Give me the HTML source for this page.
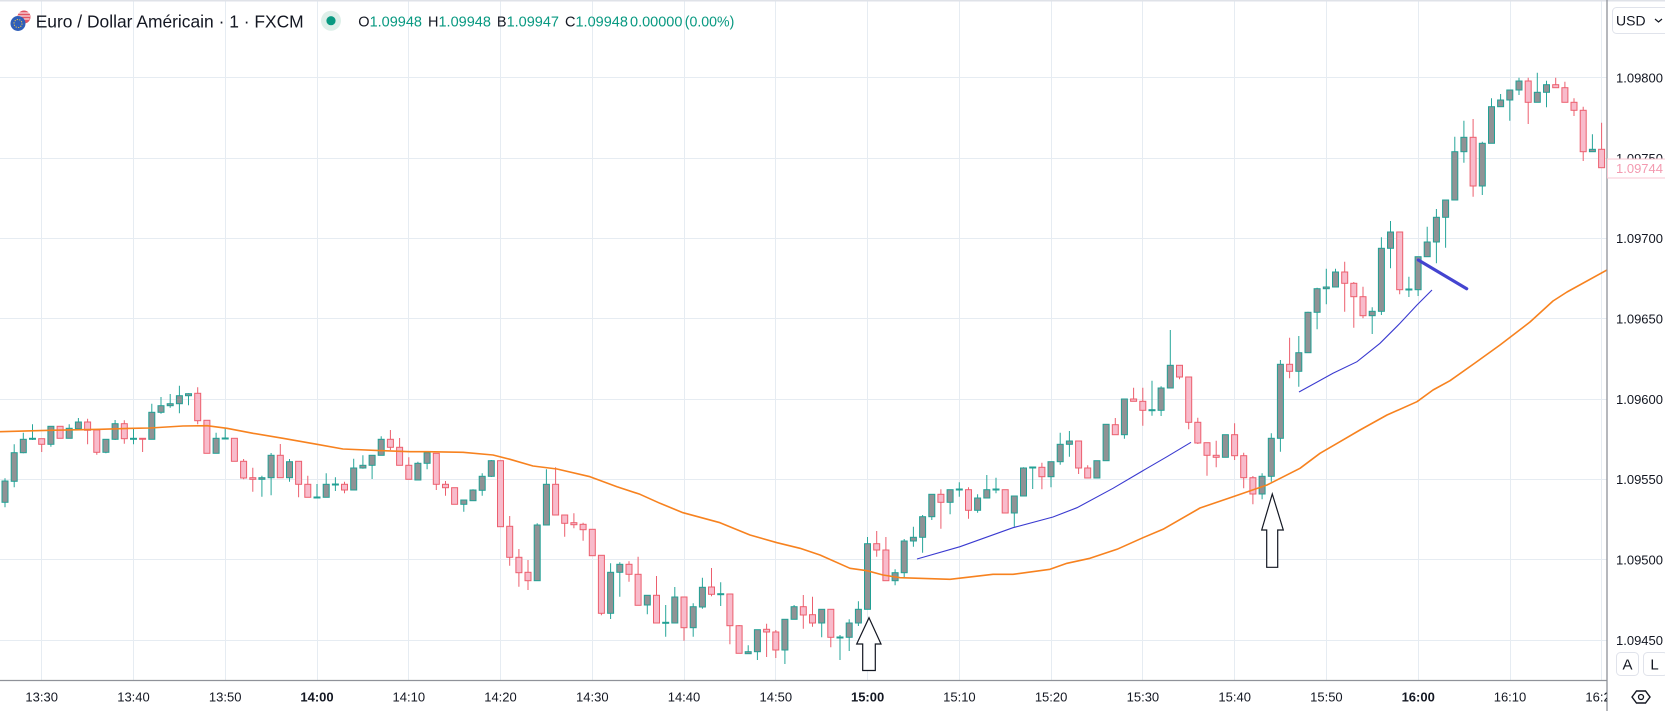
<!DOCTYPE html>
<html><head><meta charset="utf-8"><style>
html,body{margin:0;padding:0;background:#fff;}
svg{display:block;font-family:"Liberation Sans",sans-serif;}
</style></head><body>
<svg width="1665" height="711" viewBox="0 0 1665 711" xmlns="http://www.w3.org/2000/svg">
<defs><clipPath id="c"><rect x="0" y="0" width="1607" height="680"/></clipPath>
<clipPath id="ct"><rect x="0" y="680" width="1607" height="31"/></clipPath></defs>
<rect width="1665" height="711" fill="#fff"/>
<g clip-path="url(#c)">
<g stroke="#e6ecf2" stroke-width="1">
<path d="M41.5 0V680M133.5 0V680M225.5 0V680M317.5 0V680M408.5 0V680M500.5 0V680M592.5 0V680M684.5 0V680M775.5 0V680M867.5 0V680M959.5 0V680M1051.5 0V680M1142.5 0V680M1234.5 0V680M1326.5 0V680M1418.5 0V680M1510.5 0V680M1601.5 0V680"/>
<path d="M0 77.5H1607M0 158.5H1607M0 238.5H1607M0 318.5H1607M0 399.5H1607M0 479.5H1607M0 559.5H1607M0 640.5H1607"/>
</g>
<path fill="none" stroke="#26a69a" stroke-width="1" d="M5 478.3V507.3M14.2 444.3V487.3M23.3 432.7V453.3M32.5 424.3V440M50.9 426.3V446.7M69.2 424.3V438.3M78.4 418V430M105.9 439.3V453.3M115.1 420V440M133.5 428.3V444.3M151.8 403.7V439.3M161 397V413.7M170.2 394V407.7M179.4 385.7V413.3M188.5 393.3V405.3M216.1 432.7V453.3M225.2 427.7V439M261.9 475.7V496.7M271.1 453V495.3M289.5 459V481.7M317 484V498M326.2 473.3V497.3M335.4 477.3V491M353.7 458.7V490M362.9 455.3V468.7M372.1 455.3V479M381.2 436.3V455.3M417.9 461.7V480M427.1 451.7V469.3M463.8 500V511.7M473 489.3V500.7M482.2 473.3V495.7M491.3 460V477M537.2 523.3V580.7M546.4 469.3V525M610.6 563.3V619M619.8 562.3V596.7M647.3 595.3V614.3M665.7 605V636.7M674.8 587V623M693.2 603.3V636.7M702.4 577.7V608.7M720.7 582.3V606M748.2 645.3V653.7M757.4 629.7V660M784.9 619.3V664M794.1 605V619.3M821.7 609.3V637.3M840 635V660M849.2 619.3V651M858.4 601.3V626M867.5 537V609.3M895.1 569.3V585.3M904.2 539V577.3M913.4 526.7V546.7M922.6 515V552.7M931.8 494.3V520M950.1 489.7V514.3M959.3 482.3V496.7M977.6 494.3V512.7M986.8 475V498M996 477.7V493.3M1014.3 496V526.7M1023.5 467.3V496M1032.7 467V489M1051 461.7V487.3M1060.2 432.7V464.7M1069.4 431V456.7M1096.9 460.7V478M1106.1 424.3V460.7M1124.4 399V438.7M1152 380.7V415.7M1161.1 386.3V416M1170.3 330V388M1225.4 434.7V457.3M1262.1 473.3V499.3M1271.3 433.3V481.7M1280.4 360V451.7M1298.8 336V386.7M1308 311.7V352.7M1317.1 287.7V329.3M1326.3 268.7V304.3M1335.5 268.7V287M1372.2 307.3V334M1381.4 237.3V315M1390.5 221V268.3M1408.9 276.7V297M1418.1 256.7V296M1427.2 226.7V256.7M1436.4 209V263.3M1445.6 200V247.7M1454.8 136.7V200M1463.9 120.7V162.7M1482.3 141.7V195M1491.5 98.3V143.3M1500.6 94V106.7M1509.8 90V120.7M1519 77.7V95M1537.3 72.7V102.3M1546.5 80.7V107.3M1592.4 134.3V151.7"/>
<path fill="none" stroke="#ec5f6e" stroke-width="1" d="M41.7 438.7V452M60.1 426.3V438.3M87.6 418.7V444.3M96.8 429.3V454.7M124.3 420.3V443.7M142.6 438.3V452M197.7 387.3V424.3M206.9 420.3V453.3M234.4 438.3V461.3M243.6 459V479.3M252.8 467.7V491.7M280.3 444V477.7M298.6 461.3V497.3M307.8 475.7V497.3M344.5 481.7V493.3M390.4 430V450M399.6 438V465.3M408.8 457.3V479.3M436.3 453.3V490M445.5 481V495.7M454.6 487.7V504.3M500.5 460.7V526.7M509.7 516V565.7M518.9 549V586.7M528 560V590M555.6 467.3V515M564.7 515V536.7M573.9 513.3V528.3M583.1 522.7V540.7M592.3 529.3V555.7M601.4 555.3V615.3M629 561.3V581.7M638.1 556.7V605.3M656.5 576V623M684 597V640.7M711.5 568V596.3M729.9 594V644.3M739.1 625V653.3M766.6 623.7V657M775.8 630V658M803.3 595V628.7M812.5 596.7V626.7M830.8 609.3V647.3M876.7 531V556.7M885.9 537V580.7M940.9 489.3V528.7M968.5 487.3V518.7M1005.2 489.7V513M1041.9 462.7V489.3M1078.6 441V474M1087.7 465.3V478M1115.3 418V434.7M1133.6 387.7V401.3M1142.8 387.7V425.7M1179.5 365.3V379.3M1188.7 377V429.3M1197.8 417.7V444M1207 442.7V475.7M1216.2 440.7V467.3M1234.6 423.3V460M1243.7 452.7V488.3M1252.9 476V504.3M1289.6 337.7V378.3M1344.7 261.7V311.7M1353.8 282V327.7M1363 286.7V318.3M1399.7 232V294.3M1473.1 119V196.7M1528.2 77.7V124M1555.7 77.7V87.7M1564.9 81.7V102.3M1574 98.3V116M1583.2 106.7V161M1601.6 122.7V167.7"/>
<g fill="#909295" stroke="#22a094" stroke-width="1">
<rect x="2" y="481" width="6" height="21.3"/><rect x="11.2" y="452.7" width="6" height="28.6"/><rect x="20.3" y="439.3" width="6" height="13.4"/><rect x="29.5" y="438.3" width="6" height="1"/><rect x="47.9" y="426.3" width="6" height="18"/><rect x="66.2" y="428.3" width="6" height="10"/><rect x="75.4" y="422" width="6" height="6.7"/><rect x="102.9" y="439.3" width="6" height="13"/><rect x="112.1" y="423.7" width="6" height="15.6"/><rect x="130.5" y="438.3" width="6" height="1"/><rect x="148.8" y="412.3" width="6" height="27"/><rect x="158" y="405.7" width="6" height="6.6"/><rect x="167.2" y="403.7" width="6" height="2"/><rect x="176.4" y="395.7" width="6" height="8"/><rect x="185.5" y="393.7" width="6" height="2"/><rect x="213.1" y="438.3" width="6" height="15"/><rect x="222.2" y="438" width="6" height="1"/><rect x="258.9" y="477.7" width="6" height="1.6"/><rect x="268.1" y="455.3" width="6" height="22.4"/><rect x="286.5" y="461.7" width="6" height="16"/><rect x="314" y="497" width="6" height="1"/><rect x="323.2" y="484.3" width="6" height="13"/><rect x="332.4" y="484" width="6" height="1"/><rect x="350.7" y="468" width="6" height="22"/><rect x="359.9" y="465.3" width="6" height="2.7"/><rect x="369.1" y="455.3" width="6" height="10"/><rect x="378.2" y="439.3" width="6" height="16"/><rect x="414.9" y="463.3" width="6" height="16.7"/><rect x="424.1" y="452.7" width="6" height="10.6"/><rect x="460.8" y="500" width="6" height="4.3"/><rect x="470" y="490" width="6" height="10.7"/><rect x="479.2" y="476.3" width="6" height="14"/><rect x="488.3" y="460.7" width="6" height="15.6"/><rect x="534.2" y="525" width="6" height="55.7"/><rect x="543.4" y="484.3" width="6" height="40.7"/><rect x="607.6" y="572.3" width="6" height="41"/><rect x="616.8" y="564.3" width="6" height="8"/><rect x="644.3" y="595.3" width="6" height="9.7"/><rect x="662.7" y="622.3" width="6" height="1"/><rect x="671.8" y="597" width="6" height="26"/><rect x="690.2" y="606.7" width="6" height="21"/><rect x="699.4" y="587.3" width="6" height="19.7"/><rect x="717.7" y="593.7" width="6" height="1"/><rect x="745.2" y="651.7" width="6" height="2"/><rect x="754.4" y="629.7" width="6" height="22"/><rect x="781.9" y="619.3" width="6" height="30.7"/><rect x="791.1" y="606.7" width="6" height="12.6"/><rect x="818.7" y="609.3" width="6" height="13.7"/><rect x="837" y="637" width="6" height="1"/><rect x="846.2" y="623" width="6" height="14.3"/><rect x="855.4" y="609.3" width="6" height="13.7"/><rect x="864.5" y="543.7" width="6" height="65.6"/><rect x="892.1" y="572.7" width="6" height="8"/><rect x="901.2" y="541" width="6" height="31.7"/><rect x="910.4" y="537.3" width="6" height="3.7"/><rect x="919.6" y="516.7" width="6" height="20.6"/><rect x="928.8" y="494.3" width="6" height="22.4"/><rect x="947.1" y="489.7" width="6" height="12.6"/><rect x="956.3" y="489" width="6" height="1"/><rect x="974.6" y="498" width="6" height="12.3"/><rect x="983.8" y="489.7" width="6" height="8.3"/><rect x="993" y="489" width="6" height="1"/><rect x="1011.3" y="496" width="6" height="17"/><rect x="1020.5" y="468" width="6" height="28"/><rect x="1029.7" y="467" width="6" height="1"/><rect x="1048" y="461.7" width="6" height="15"/><rect x="1057.2" y="444.3" width="6" height="17.4"/><rect x="1066.4" y="441" width="6" height="3.3"/><rect x="1093.9" y="460.7" width="6" height="17.3"/><rect x="1103.1" y="424.3" width="6" height="36.4"/><rect x="1121.4" y="399" width="6" height="35.7"/><rect x="1149" y="409.7" width="6" height="1"/><rect x="1158.1" y="388" width="6" height="22.3"/><rect x="1167.3" y="365.3" width="6" height="22.7"/><rect x="1222.4" y="434.7" width="6" height="22.6"/><rect x="1259.1" y="476.3" width="6" height="17.7"/><rect x="1268.3" y="438.3" width="6" height="38"/><rect x="1277.4" y="364.3" width="6" height="74"/><rect x="1295.8" y="352.7" width="6" height="18.6"/><rect x="1305" y="312.3" width="6" height="40.4"/><rect x="1314.1" y="288.7" width="6" height="23.6"/><rect x="1323.3" y="287" width="6" height="1.7"/><rect x="1332.5" y="272" width="6" height="15"/><rect x="1369.2" y="311.3" width="6" height="4.4"/><rect x="1378.4" y="248.3" width="6" height="63"/><rect x="1387.5" y="232" width="6" height="16.3"/><rect x="1405.9" y="289" width="6" height="1"/><rect x="1415.1" y="256.7" width="6" height="33"/><rect x="1424.2" y="242" width="6" height="14.7"/><rect x="1433.4" y="217.3" width="6" height="24.7"/><rect x="1442.6" y="200" width="6" height="17.3"/><rect x="1451.8" y="151.7" width="6" height="48.3"/><rect x="1460.9" y="137.3" width="6" height="14.4"/><rect x="1479.3" y="143.3" width="6" height="42.7"/><rect x="1488.5" y="106.7" width="6" height="36.6"/><rect x="1497.6" y="100" width="6" height="6.7"/><rect x="1506.8" y="90" width="6" height="10"/><rect x="1516" y="81" width="6" height="9"/><rect x="1534.3" y="92.3" width="6" height="10"/><rect x="1543.5" y="84.7" width="6" height="7.6"/><rect x="1589.4" y="149.3" width="6" height="2.4"/>
</g>
<g fill="#f8bbcb" stroke="#ec5f6e" stroke-width="1">
<rect x="38.7" y="438.7" width="6" height="5.6"/><rect x="57.1" y="426.3" width="6" height="12"/><rect x="84.6" y="422" width="6" height="8.3"/><rect x="93.8" y="430" width="6" height="22.3"/><rect x="121.3" y="423.7" width="6" height="15"/><rect x="139.6" y="438.3" width="6" height="1"/><rect x="194.7" y="393.3" width="6" height="27.4"/><rect x="203.9" y="420.3" width="6" height="33"/><rect x="231.4" y="438.3" width="6" height="23"/><rect x="240.6" y="461.3" width="6" height="16.7"/><rect x="249.8" y="477.7" width="6" height="1.6"/><rect x="277.3" y="455.3" width="6" height="22.4"/><rect x="295.6" y="461.3" width="6" height="23"/><rect x="304.8" y="484.3" width="6" height="13"/><rect x="341.5" y="484.3" width="6" height="5.7"/><rect x="387.4" y="439.3" width="6" height="8"/><rect x="396.6" y="447.3" width="6" height="18"/><rect x="405.8" y="465.3" width="6" height="14"/><rect x="433.3" y="453.3" width="6" height="31"/><rect x="442.5" y="484.3" width="6" height="3.4"/><rect x="451.6" y="487.7" width="6" height="16.6"/><rect x="497.5" y="460.7" width="6" height="66"/><rect x="506.7" y="526.3" width="6" height="31"/><rect x="515.9" y="557.3" width="6" height="15.4"/><rect x="525" y="572.3" width="6" height="8.4"/><rect x="552.6" y="484.3" width="6" height="30.7"/><rect x="561.7" y="515" width="6" height="8.3"/><rect x="570.9" y="522.7" width="6" height="2"/><rect x="580.1" y="524.3" width="6" height="5.4"/><rect x="589.3" y="529.3" width="6" height="26.4"/><rect x="598.4" y="555.3" width="6" height="58"/><rect x="626" y="564.3" width="6" height="10"/><rect x="635.1" y="574.3" width="6" height="31"/><rect x="653.5" y="595.3" width="6" height="27.7"/><rect x="681" y="597" width="6" height="30.7"/><rect x="708.5" y="587" width="6" height="7.3"/><rect x="726.9" y="594" width="6" height="31.7"/><rect x="736.1" y="625.7" width="6" height="27.6"/><rect x="763.6" y="629.3" width="6" height="2.7"/><rect x="772.8" y="632" width="6" height="18"/><rect x="800.3" y="606.7" width="6" height="8.3"/><rect x="809.5" y="614.7" width="6" height="8.3"/><rect x="827.8" y="609.3" width="6" height="28"/><rect x="873.7" y="543.7" width="6" height="6.3"/><rect x="882.9" y="550" width="6" height="30.7"/><rect x="937.9" y="494.3" width="6" height="8"/><rect x="965.5" y="489.7" width="6" height="20.6"/><rect x="1002.2" y="489.7" width="6" height="23.3"/><rect x="1038.9" y="467.3" width="6" height="9.4"/><rect x="1075.6" y="441" width="6" height="27"/><rect x="1084.7" y="468" width="6" height="10"/><rect x="1112.3" y="424.7" width="6" height="10"/><rect x="1130.6" y="399" width="6" height="2.3"/><rect x="1139.8" y="401.3" width="6" height="9"/><rect x="1176.5" y="365.3" width="6" height="11.7"/><rect x="1185.7" y="377" width="6" height="45.3"/><rect x="1194.8" y="422.3" width="6" height="20.7"/><rect x="1204" y="442.7" width="6" height="12.6"/><rect x="1213.2" y="455.3" width="6" height="2"/><rect x="1231.6" y="434.7" width="6" height="21"/><rect x="1240.7" y="455.7" width="6" height="22"/><rect x="1249.9" y="477.7" width="6" height="16.3"/><rect x="1286.6" y="364.3" width="6" height="7"/><rect x="1341.7" y="272" width="6" height="11.3"/><rect x="1350.8" y="283.3" width="6" height="13.4"/><rect x="1360" y="296.7" width="6" height="19"/><rect x="1396.7" y="232" width="6" height="57.7"/><rect x="1470.1" y="137.3" width="6" height="48.7"/><rect x="1525.2" y="81" width="6" height="21.3"/><rect x="1552.7" y="84.7" width="6" height="3"/><rect x="1561.9" y="87.7" width="6" height="14.6"/><rect x="1571" y="102.3" width="6" height="8"/><rect x="1580.2" y="110.3" width="6" height="41.4"/><rect x="1598.6" y="149.3" width="6" height="18.4"/>
</g>
<polyline fill="none" stroke="#f7821f" stroke-width="1.6" stroke-linejoin="round" points="0,431.7 50,430.3 100,429.3 133,428.3 150,428 183,426 207,425.7 227,428.3 253,433.3 283,438.3 317,444.3 343,449 383,450.7 410,451.7 427,451.7 463,452.3 493,455 510,459.3 533,466 557,469 590,476.7 617,486.7 640,494.3 660,503.3 683,512.7 720,522.7 750,535 777,542.7 800,548.3 820,555 850,568.3 867,570.7 883,575 900,577.7 950,579.3 993,574.3 1013,574.3 1050,569.3 1067,563.3 1090,558.3 1117,549.3 1143,537.7 1163,529.3 1200,508 1233,496.7 1267,485 1300,468.3 1320,453.3 1340,441.7 1360,430 1387,415 1417,401.7 1433,390 1450,380.7 1475,363 1500,345 1530,322 1553,301 1567,292 1607,270"/>
<polyline fill="none" stroke="#3a3ad0" stroke-width="1.1" points="917,559 960,546.7 1013,527.7 1053,517 1077,507.7 1113,488.3 1147,468.3 1167,456.7 1191,442.3"/>
<polyline fill="none" stroke="#3a3ad0" stroke-width="1.1" points="1299,392 1333,373.3 1357,361.7 1380,343.3 1400,323.3 1417,305 1432,290"/>
<line x1="1418.3" y1="260" x2="1466.7" y2="288.7" stroke="#4444d0" stroke-width="3.2" stroke-linecap="round"/>
<polygon fill="#fff" stroke="#131722" stroke-width="1.2" points="869,617.7 881,644 875.3,644 875.3,670.5 862.7,670.5 862.7,644 856.7,644"/>
<polygon fill="#fff" stroke="#131722" stroke-width="1.2" points="1272.3,494 1283.3,530 1277.7,530 1277.7,567.3 1266.7,567.3 1266.7,530 1261.7,530"/>
</g>
<!-- header -->
<rect x="0" y="0" width="1665" height="1.5" fill="#dfe2e8"/>
<circle cx="24" cy="17" r="6.5" fill="#e25563"/>
<path d="M18.5 13h11M18 16h12M18.5 19h11" stroke="#fff" stroke-width="1.1"/>
<circle cx="18" cy="23.5" r="7.5" fill="#2f5fb8"/>
<circle cx="18" cy="23.5" r="4" fill="none" stroke="#f2c84b" stroke-width="1" stroke-dasharray="1.2 1.3"/>
<text x="35.7" y="27.5" font-size="17.5" fill="#131722" textLength="268" lengthAdjust="spacingAndGlyphs">Euro / Dollar Américain · 1 · FXCM</text>
<circle cx="331" cy="20.7" r="10" fill="#ddefe9"/>
<circle cx="331" cy="20.7" r="4.6" fill="#089981"/>
<g font-size="14.5" fill="#089981">
<text x="358.3" y="26.3"><tspan fill="#131722">O</tspan>1.09948</text>
<text x="428" y="26.3"><tspan fill="#131722">H</tspan>1.09948</text>
<text x="496.9" y="26.3"><tspan fill="#131722">B</tspan>1.09947</text>
<text x="565" y="26.3"><tspan fill="#131722">C</tspan>1.09948</text>
<text x="630" y="26.3">0.00000</text>
<text x="684.8" y="26.3" textLength="49.5" lengthAdjust="spacingAndGlyphs">(0.00%)</text>
</g>
<!-- axes -->
<line x1="0" y1="680.5" x2="1607" y2="680.5" stroke="#8f9299" stroke-width="1.3"/>
<line x1="1607" y1="0" x2="1607" y2="711" stroke="#8f9299" stroke-width="1.3"/>
<g font-size="13" fill="#131722">
<text x="1616" y="82.5">1.09800</text>
<text x="1616" y="163">1.09750</text>
<text x="1616" y="243">1.09700</text>
<text x="1616" y="323.5">1.09650</text>
<text x="1616" y="404">1.09600</text>
<text x="1616" y="484">1.09550</text>
<text x="1616" y="564.5">1.09500</text>
<text x="1616" y="645">1.09450</text>
</g>
<rect x="1607.5" y="159" width="60" height="19" fill="#fff" stroke="#f9c7d3" stroke-width="1"/>
<text x="1616" y="173" font-size="13" fill="#f39ab0">1.09744</text>
<rect x="1612.5" y="7.5" width="60" height="26" rx="4" fill="#fff" stroke="#e0e3eb"/>
<text x="1616" y="25.5" font-size="14" fill="#131722">USD</text>
<polyline points="1655,19 1658.5,22 1662,19" fill="none" stroke="#131722" stroke-width="1.2"/>
<rect x="1616.5" y="652.5" width="22" height="23" rx="4" fill="#fff" stroke="#e0e3eb"/>
<rect x="1643.5" y="652.5" width="24" height="23" rx="4" fill="#fff" stroke="#e0e3eb"/>
<text x="1627.5" y="669.5" font-size="15" fill="#131722" text-anchor="middle">A</text>
<text x="1654.5" y="669.5" font-size="15" fill="#131722" text-anchor="middle">L</text>
<polygon points="1632,697 1636.5,691 1645.5,691 1650,697 1645.5,703 1636.5,703" fill="none" stroke="#131722" stroke-width="1.4"/>
<circle cx="1641" cy="697" r="2.5" fill="none" stroke="#131722" stroke-width="1.3"/>
<g font-size="13" fill="#131722" text-anchor="middle" clip-path="url(#ct)">
<text x="41.7" y="701.5">13:30</text>
<text x="133.5" y="701.5">13:40</text>
<text x="225.2" y="701.5">13:50</text>
<text x="317" y="701.5" font-weight="bold">14:00</text>
<text x="408.8" y="701.5">14:10</text>
<text x="500.5" y="701.5">14:20</text>
<text x="592.3" y="701.5">14:30</text>
<text x="684" y="701.5">14:40</text>
<text x="775.8" y="701.5">14:50</text>
<text x="867.6" y="701.5" font-weight="bold">15:00</text>
<text x="959.4" y="701.5">15:10</text>
<text x="1051.1" y="701.5">15:20</text>
<text x="1142.9" y="701.5">15:30</text>
<text x="1234.7" y="701.5">15:40</text>
<text x="1326.4" y="701.5">15:50</text>
<text x="1418.2" y="701.5" font-weight="bold">16:00</text>
<text x="1510" y="701.5">16:10</text>
<text x="1601.7" y="701.5">16:20</text>
</g>
</svg>
</body></html>
